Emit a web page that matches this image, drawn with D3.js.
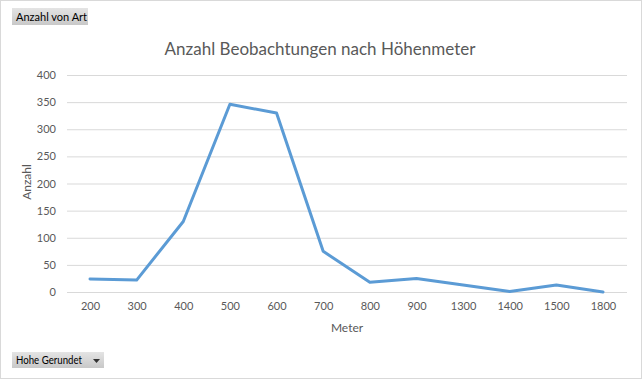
<!DOCTYPE html>
<html>
<head>
<meta charset="utf-8">
<script src="https://cdn.jsdelivr.net/npm/d3@7"></script>
<style>
  body { margin: 0; background: #fff; }
  svg { font-family: Lato, "Open Sans", sans-serif; }
</style>
</head>
<body>
<div id="chart"></div>
<script>
'use strict';

var categories = ['200', '300', '400', '500', '600', '700', '800', '900', '1300', '1400', '1500', '1800'];
var counts = [24, 22, 130, 346, 330, 75, 18, 25, 13, 1, 13, 0];
var yTicks = [0, 50, 100, 150, 200, 250, 300, 350, 400];

var chartWidth = 642, chartHeight = 379;
var plotLeft = 67, plotRight = 627, plotTop = 75, plotBottom = 292;

var svg = d3.select('#chart').append('svg')
  .attr('width', chartWidth)
  .attr('height', chartHeight);

svg.append('rect')
  .attr('x', 0.5).attr('y', 0.5)
  .attr('width', chartWidth - 1).attr('height', chartHeight - 1)
  .attr('fill', '#fff')
  .attr('stroke', '#d9d9d9');

var x = d3.scalePoint()
  .domain(categories)
  .range([90, 603]);

var y = d3.scaleLinear()
  .domain([0, 400])
  .range([plotBottom, plotTop]);

// gridlines
svg.append('g')
  .selectAll('line')
  .data(yTicks)
  .enter()
  .append('line')
  .attr('x1', plotLeft).attr('x2', plotRight)
  .attr('y1', function(d){ return y(d) + 0.5; })
  .attr('y2', function(d){ return y(d) + 0.5; })
  .attr('stroke', '#d9d9d9')
  .attr('stroke-width', 1);

// y axis labels
var yAxis = d3.axisLeft(y).tickValues(yTicks).tickSize(0).tickPadding(0);
var gy = svg.append('g').attr('transform', 'translate(56,0)').call(yAxis);
gy.select('.domain').remove();
gy.selectAll('text')
  .attr('fill', '#595959')
  .style('font-size', '11px')
  .style('font-family', 'Lato, "Open Sans", sans-serif');

// x axis labels
var xAxis = d3.axisBottom(x).tickSize(0).tickPadding(0);
var gx = svg.append('g').attr('transform', 'translate(0,' + (plotBottom + 10) + ')').call(xAxis);
gx.select('.domain').remove();
gx.selectAll('text')
  .attr('fill', '#595959')
  .style('font-size', '11px')
  .style('font-family', 'Lato, "Open Sans", sans-serif');

// line
var line = d3.line()
  .x(function(d, i){ return x(categories[i]); })
  .y(function(d){ return y(d); });

svg.append('path')
  .datum(counts)
  .attr('d', line)
  .attr('fill', 'none')
  .attr('stroke', '#5b9bd5')
  .attr('stroke-width', 3)
  .attr('stroke-linejoin', 'round')
  .attr('stroke-linecap', 'round');

// title
svg.append('text')
  .attr('x', 320).attr('y', 55)
  .attr('text-anchor', 'middle')
  .attr('fill', '#595959')
  .style('font-size', '17px')
  .text('Anzahl Beobachtungen nach Höhenmeter');

// axis titles
svg.append('text')
  .attr('transform', 'translate(31,182) rotate(-90)')
  .attr('text-anchor', 'middle')
  .attr('fill', '#595959')
  .style('font-size', '12px')
  .text('Anzahl');

svg.append('text')
  .attr('x', 347).attr('y', 332)
  .attr('text-anchor', 'middle')
  .attr('fill', '#595959')
  .style('font-size', '12px')
  .text('Meter');

// pivot field buttons
var grad = svg.append('defs').append('linearGradient')
  .attr('id', 'btn').attr('x1', 0).attr('y1', 0).attr('x2', 0).attr('y2', 1);
grad.append('stop').attr('offset', '0%').attr('stop-color', '#e4e4e4');
grad.append('stop').attr('offset', '100%').attr('stop-color', '#c8c8c8');

svg.append('rect')
  .attr('x', 12).attr('y', 8).attr('width', 76).attr('height', 17)
  .attr('fill', 'url(#btn)');
svg.append('text')
  .attr('x', 16).attr('y', 21)
  .attr('fill', '#000')
  .style('font-size', '11px')
  .text('Anzahl von Art');

svg.append('rect')
  .attr('x', 12).attr('y', 352).attr('width', 92).attr('height', 16)
  .attr('fill', 'url(#btn)');
svg.append('text')
  .attr('x', 16).attr('y', 364)
  .attr('fill', '#000')
  .attr('textLength', 66)
  .attr('lengthAdjust', 'spacingAndGlyphs')
  .style('font-size', '11px')
  .text('Hohe Gerundet');
svg.append('path')
  .attr('d', 'M93,359 L100,359 L96.5,363 Z')
  .attr('fill', '#333');
</script>
</body>
</html>
